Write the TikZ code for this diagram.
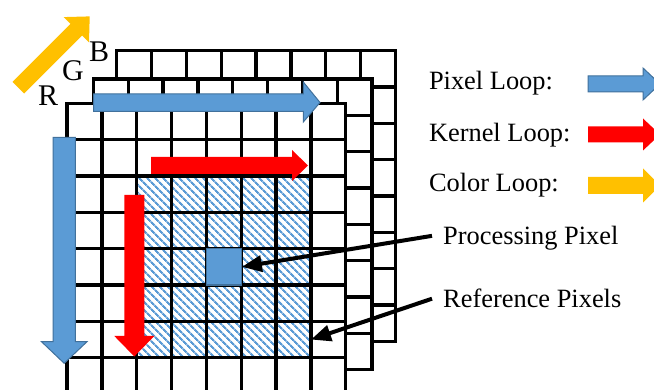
\documentclass[tikz,border=0pt]{standalone}
\usepackage{fontspec}
\setmainfont{Liberation Serif}
\usepackage{xcolor}
\usepackage{tikz}
\usetikzlibrary{arrows.meta,patterns.meta}
\definecolor{pixblue}{HTML}{5B9BD5}
\definecolor{pixedge}{HTML}{41719C}
\definecolor{kernred}{HTML}{FF0000}
\definecolor{coloryel}{HTML}{FFC000}
\newcommand{\cellw}{34.85}
\newcommand{\cellh}{36.35}
\tikzset{
  gridln/.style={line width=3.3pt, line cap=rect},
  kernhatch/.style={pattern={Lines[angle=-45,distance=5.4pt,line width=2.2pt]}, pattern color=pixblue},
  pixbox/.style={draw=pixedge, fill=pixblue, line width=1.2pt, minimum width=\cellw pt, minimum height=\cellh pt, inner sep=0pt},
  bluearr/.style={fill=pixblue, draw=pixedge, line width=1pt},
  redarr/.style={fill=kernred},
  yelarr/.style={fill=coloryel},
  ptr/.style={-{Triangle[length=20pt,width=16pt]}, line width=4pt},
  lbl/.style={font=\fontsize{26.4}{30}\selectfont, inner sep=0pt, anchor=base west},
  chan/.style={font=\fontsize{30}{34}\selectfont, inner sep=0pt, anchor=base west},
  note/.style={lbl, inner xsep=11pt, text depth=0pt},
}
\begin{document}
\begin{tikzpicture}[x=1pt,y=-1pt]
  \useasboundingbox[fill=white] (0,0) rectangle (654,390);
  \clip (0,0) rectangle (654,390);
  % back layers (B, G)
  \foreach \ox/\oy in {116.7/50.7, 93.3/79} {
    \fill[white] (\ox,\oy) rectangle ++(8*\cellw,8*\cellh);
    \foreach \k in {0,...,8} {
      \draw[gridln] ({\ox+\k*\cellw},\oy) -- ++(0,8*\cellh);
      \draw[gridln] (\ox,{\oy+\k*\cellh}) -- ++(8*\cellw,0);
    }
  }
  % front layer (R) with the kernel window
  \fill[white] (67,103.3) rectangle ++(8*\cellw,8*\cellh);
  \fill[kernhatch] ({67+2*\cellw},{103.3+2*\cellh}) rectangle ++(5*\cellw,5*\cellh);
  \foreach \k in {0,...,8} {
    \draw[gridln] ({67+\k*\cellw},103.3) -- ++(0,8*\cellh);
    \draw[gridln] (67,{103.3+\k*\cellh}) -- ++(8*\cellw,0);
  }
  \node[pixbox] (pp) at ({67+4.5*\cellw},{103.3+4.5*\cellh}) {};
  \coordinate (rp) at ({67+7*\cellw},{103.3+6.5*\cellh});

  % loop arrows
  \filldraw[bluearr] (93.5,94) -- (303.3,94) -- (303.3,82) -- (320,102.5) -- (303.3,122) -- (303.3,111.5) -- (93.5,111.5) -- cycle;
  \filldraw[bluearr] (53,137.3) -- (75.3,137.3) -- (75.3,341.7) -- (87,341.7) -- (64.2,363.3) -- (41.5,341.7) -- (53,341.7) -- cycle;
  \fill[redarr] (151,157) -- (292,157) -- (292,150) -- (308,165.5) -- (292,181) -- (292,174) -- (151,174) -- cycle;
  \fill[redarr] (124.3,195) -- (144.3,195) -- (144.3,336) -- (154.3,336) -- (134.3,356.5) -- (114.3,336) -- (124.3,336) -- cycle;
  \fill[yelarr] (12.5,82) -- (70.5,24) -- (63.6,17.1) -- (89.7,16.4) -- (89,42.5) -- (82.1,35.6) -- (24.1,93.6) -- cycle;

  \node[chan] (chb) at (88.8,61.5) {B};
  \node[chan] (chg) at (61.8,80.5) {G};
  \node[chan] (chr) at (37.8,105.5) {R};

  % legend
  \node[lbl] (lpix) at (428.8,90) {Pixel Loop:};
  \node[lbl] (lker) at (428.8,141.7) {Kernel Loop:};
  \node[lbl] (lcol) at (428.8,191.5) {Color Loop:};
  \filldraw[bluearr] (588,76) -- (643,76) -- (643,68) -- (660,84) -- (643,100) -- (643,92) -- (588,92) -- cycle;
  \fill[redarr] (588,126.5) -- (643,126.5) -- (643,118.5) -- (660,134.5) -- (643,150.5) -- (643,142.5) -- (588,142.5) -- cycle;
  \fill[yelarr] (588,177) -- (643,177) -- (643,168.5) -- (660,185.5) -- (643,202.5) -- (643,194) -- (588,194) -- cycle;

  \node[note] (lpp) at (432,245) {Processing Pixel};
  \node[note] (lrp) at (432,308) {Reference Pixels};
  \draw[ptr] (lpp.west) -- (pp.east);
  \draw[ptr] (lrp.west) -- (rp);
\end{tikzpicture}
\end{document}
